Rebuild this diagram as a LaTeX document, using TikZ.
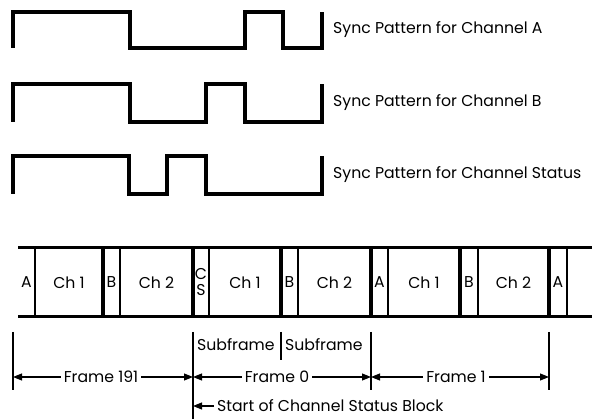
\documentclass[tikz,border=0pt]{standalone}
\usepackage{fontspec}
\setmainfont{Poppins}
\usetikzlibrary{arrows.meta, positioning}

\tikzset{
  wave/.style={line width=3.2pt, line join=miter},
  tag/.style={inner sep=3pt, font=\fontsize{15.7}{16}\selectfont},
  cell/.style={minimum height=69pt, inner sep=0pt, outer sep=0pt, align=center,
    font=\fontsize{15.7}{16}\selectfont},
  rowline/.style={line width=3pt},
  thickbar/.style={line width=4.5pt},
  thinbar/.style={line width=2.6pt},
  tick/.style={line width=2pt},
  dim/.style={line width=1.1pt, -{Triangle[length=9pt,width=7pt]}},
}

\begin{document}
\begin{tikzpicture}[x=1pt, y=-1pt, node distance=0pt]
\useasboundingbox (0,0) rectangle (592,419);

% sync patterns
\draw[wave] (13,48) |- (130,12) |- (245,48) |- (283,12) |- (322,48) -- (322,12);
\draw[wave] (13,122) |- (130,84) |- (206,122) |- (245,84) |- (322,122) -- (322,84);
\draw[wave] (13,194) |- (129,156) |- (167,194) |- (206,156) |- (322,194) -- (322,156);
\node[tag, anchor=west] (syncA) at (330,30) {Sync Pattern for Channel A};
\node[tag, anchor=west] (syncB) at (330,103) {Sync Pattern for Channel B};
\node[tag, anchor=west] (syncS) at (330,175) {Sync Pattern for Channel Status};

% frame row
\node[cell, minimum width=17pt] (a1) at (26.5,282.5) {A};
\node[cell, minimum width=68pt, right=of a1] (ch1a) {Ch 1};
\node[cell, minimum width=17pt, right=of ch1a] (b1) {B};
\node[cell, minimum width=73pt, right=of b1] (ch2a) {Ch 2};
\node[cell, minimum width=16pt, right=of ch2a] (cs) {C\\S};
\node[cell, minimum width=72pt, right=of cs] (ch1b) {Ch 1};
\node[cell, minimum width=17pt, right=of ch1b] (b2) {B};
\node[cell, minimum width=73pt, right=of b2] (ch2b) {Ch 2};
\node[cell, minimum width=17pt, right=of ch2b] (a2) {A};
\node[cell, minimum width=72pt, right=of a2] (ch1c) {Ch 1};
\node[cell, minimum width=18pt, right=of ch1c] (b3) {B};
\node[cell, minimum width=71pt, right=of b3] (ch2c) {Ch 2};
\node[cell, minimum width=18pt, right=of ch2c] (a3) {A};
\node[cell, minimum width=25pt, right=of a3] (tail) {};
\draw[rowline] (a1.north west) -- (tail.north east);
\draw[rowline] (a1.south west) -- (tail.south east);
\foreach \n in {a1,b1,cs,b2,a2,b3,a3}
  \draw[thinbar] (\n.north east) -- (\n.south east);
\foreach \n in {b1,cs,b2,a2,b3,a3}
  \draw[thickbar] (\n.north west) -- (\n.south west);

% frames
\coordinate (t191) at (13,332);
\coordinate (t0) at (193,332);
\coordinate (tsub) at (281,332);
\coordinate (t1) at (371,332);
\coordinate (t2) at (549,332);
\draw[tick] (t191) -- ++(0,58);
\draw[tick] (t0) -- ++(0,87);
\draw[tick] (tsub) -- ++(0,28);
\draw[tick] (t1) -- ++(0,58);
\draw[tick] (t2) -- ++(0,58);
\node[tag, anchor=west] (sub1) at (194,345) {Subframe};
\node[tag, anchor=west] (sub2) at (282,345) {Subframe};
\node[tag] (f191) at (101,377) {Frame 191};
\node[tag] (f0) at (277,377) {Frame 0};
\node[tag] (f1) at (456,377) {Frame 1};
\draw[dim] (f191) -- (f191 -| t191);
\draw[dim] (f191) -- (f191 -| t0);
\draw[dim] (f0) -- (f0 -| t0);
\draw[dim] (f0) -- (f0 -| t1);
\draw[dim] (f1) -- (f1 -| t1);
\draw[dim] (f1) -- (f1 -| t2);
\node[tag, anchor=west] (start) at (214,406) {Start of Channel Status Block};
\draw[dim] (start) -- (start -| t0);
\end{tikzpicture}
\end{document}
